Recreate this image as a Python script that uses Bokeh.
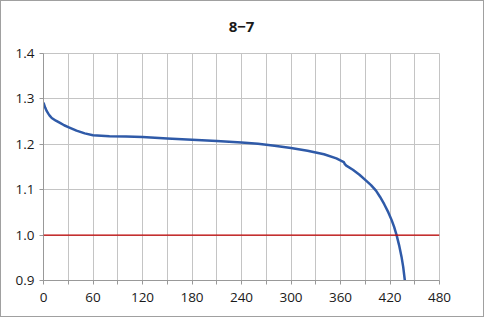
from bokeh.plotting import figure
from bokeh.models import FixedTicker, Span, Range1d, Title
from bokeh.embed import file_html
from bokeh.resources import INLINE

title_text = "8\u22127"
minutes = [0, 2, 4, 6, 8, 10, 15, 20, 25, 30, 40, 50, 60, 80, 100, 120, 150, 180, 210, 240,
           260, 280, 300, 320, 340, 355, 364, 365, 367, 375, 383, 391, 397, 403, 408, 413, 418,
           422, 425, 428, 431, 434, 436, 438]
voltage = [1.292, 1.281, 1.273, 1.267, 1.262, 1.258, 1.252, 1.247, 1.242, 1.238, 1.230, 1.224, 1.220, 1.218,
           1.217, 1.216, 1.213, 1.210, 1.207, 1.204, 1.201, 1.197, 1.192, 1.186, 1.178, 1.169, 1.161, 1.157,
           1.153, 1.144, 1.133, 1.120, 1.110, 1.098, 1.084, 1.068, 1.050, 1.033, 1.018, 1.000, 0.978, 0.952,
           0.930, 0.900]
cutoff = 1.0
x_ticks = list(range(0, 481, 30))
y_ticks = [0.9, 1.0, 1.1, 1.2, 1.3, 1.4]

p = figure(width=484, height=317, output_backend="svg", toolbar_location=None, title=None,
           x_range=Range1d(0, 480), y_range=Range1d(0.9, 1.4),
           min_border_left=42, min_border_right=46, min_border_top=0, min_border_bottom=38)

# spacer between frame and title, then the title, then a spacer above it
p.add_layout(Title(text=" ", text_font_size="12px", standoff=6), "above")
p.add_layout(Title(text=title_text, align="center", text_font="Open Sans", text_font_size="15px",
                   text_font_style="bold", text_color="#1a1a1a", standoff=0), "above")
p.add_layout(Title(text=" ", text_font_size="12px", standoff=2), "above")

p.line(minutes, voltage, line_color="#2f5aa8", line_width=2.5)
p.add_layout(Span(location=cutoff, dimension="width", line_color="#c00000", line_width=1.2))

p.xaxis.ticker = FixedTicker(ticks=x_ticks)
p.xaxis.major_label_overrides = {t: (str(t) if t % 60 == 0 else "") for t in x_ticks}
p.yaxis.ticker = FixedTicker(ticks=y_ticks)
p.yaxis.major_label_overrides = {t: f"{t:.1f}" for t in y_ticks}

for ax in (p.xaxis[0], p.yaxis[0]):
    ax.axis_line_color = "#999999"
    ax.major_tick_line_color = "#999999"
    ax.major_tick_out = 4
    ax.major_tick_in = 0
    ax.minor_tick_line_color = None
    ax.major_label_text_font = "Open Sans"
    ax.major_label_text_font_size = "13.5px"
    ax.major_label_text_color = "#1a1a1a"
p.xaxis.major_label_standoff = 8
p.yaxis.major_label_standoff = 5

p.xgrid.ticker = FixedTicker(ticks=x_ticks)
p.ygrid.ticker = FixedTicker(ticks=y_ticks)
p.grid.grid_line_color = "#c4c4c4"
p.grid.grid_line_width = 1
p.outline_line_color = "#c4c4c4"
p.background_fill_color = "white"
p.border_fill_color = "white"
p.styles = {"border": "1px solid #a0a0a0"}

open("out.html", "w").write(file_html(p, INLINE))
